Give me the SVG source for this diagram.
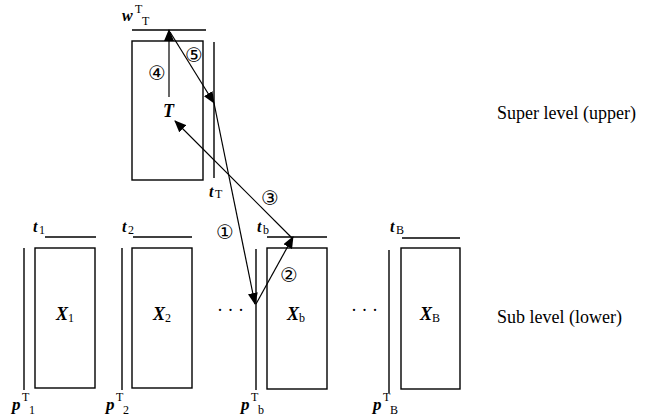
<svg xmlns="http://www.w3.org/2000/svg" width="645" height="416" viewBox="0 0 645 416">
<style>
.box{fill:#fff;stroke:#000;stroke-width:1.4}
.ln{stroke:#000;stroke-width:1.4;fill:none}
.ar{stroke:#000;stroke-width:1.2;fill:none;marker-end:url(#ah)}
.v{font-family:"Liberation Serif",serif;font-weight:bold;font-style:italic;fill:#000}
.s{font-family:"Liberation Serif",serif;font-weight:normal;font-style:normal;fill:#000}
.c{font-family:"DejaVu Sans",sans-serif;font-size:20px;fill:#000;text-anchor:middle}
.lab{font-family:"Liberation Serif",serif;font-size:18px;fill:#000}
</style>
<defs>
<marker id="ah" viewBox="0 0 12 10" refX="11" refY="5" markerWidth="12" markerHeight="10" markerUnits="userSpaceOnUse" orient="auto">
<path d="M0,0 L12,5 L0,10 Z" fill="#000"/>
</marker>
</defs>

<g id="upper">
<rect class="box" x="132" y="41" width="71" height="139"/>
<text class="v" x="163" y="117" font-size="18">T</text>
</g>
<g id="wTT">
<line class="ln" x1="132" y1="30" x2="206" y2="30"/>
<text class="v" x="122" y="21" font-size="16">w</text>
<text class="s" x="135" y="13" font-size="12">T</text>
<text class="s" x="142" y="25" font-size="12">T</text>
</g>
<g id="tT">
<line class="ln" x1="214" y1="42" x2="214" y2="178"/>
<text class="v" x="209" y="197" font-size="16">t</text>
<text class="s" x="215" y="198" font-size="12">T</text>
</g>

<g id="X1">
<line class="ln" x1="45" y1="237" x2="96" y2="237"/>
<text class="v" x="33" y="232" font-size="16">t</text>
<text class="s" x="39" y="234" font-size="12">1</text>
<line class="ln" x1="24" y1="248" x2="24" y2="390"/>
<rect class="box" x="35" y="248" width="60" height="140"/>
<text class="v" x="56" y="320" font-size="18">X</text>
<text class="s" x="68" y="322" font-size="12" font-weight="bold">1</text>
<text class="v" x="12" y="410" font-size="17">p</text>
<text class="s" x="22" y="401" font-size="12">T</text>
<text class="s" x="29" y="414" font-size="12">1</text>
</g>
<g id="X2">
<line class="ln" x1="133" y1="237" x2="192" y2="237"/>
<text class="v" x="122" y="232" font-size="16">t</text>
<text class="s" x="128" y="234" font-size="12">2</text>
<line class="ln" x1="122" y1="248" x2="122" y2="390"/>
<rect class="box" x="132" y="248" width="60" height="140"/>
<text class="v" x="153" y="320" font-size="18">X</text>
<text class="s" x="165" y="322" font-size="12" font-weight="bold">2</text>
<text class="v" x="106" y="410" font-size="17">p</text>
<text class="s" x="116" y="401" font-size="12">T</text>
<text class="s" x="123" y="414" font-size="12">2</text>
</g>
<g id="Xb">
<line class="ln" x1="267" y1="237" x2="327" y2="237"/>
<text class="v" x="257" y="232" font-size="16">t</text>
<text class="s" x="263" y="234" font-size="12">b</text>
<line class="ln" x1="256" y1="249" x2="256" y2="390" stroke-width="2"/>
<rect class="box" x="267" y="248" width="60" height="141"/>
<text class="v" x="287" y="320" font-size="18">X</text>
<text class="s" x="299" y="322" font-size="12" font-weight="bold">b</text>
<text class="v" x="241" y="410" font-size="17">p</text>
<text class="s" x="251" y="401" font-size="12">T</text>
<text class="s" x="258" y="414" font-size="12">b</text>
</g>
<g id="XB">
<line class="ln" x1="402" y1="238" x2="460" y2="238"/>
<text class="v" x="390" y="232" font-size="16">t</text>
<text class="s" x="396" y="234" font-size="12">B</text>
<line class="ln" x1="389" y1="250" x2="389" y2="393"/>
<rect class="box" x="401" y="248" width="59" height="141"/>
<text class="v" x="420" y="320" font-size="18">X</text>
<text class="s" x="432" y="322" font-size="12" font-weight="bold">B</text>
<text class="v" x="373" y="410" font-size="17">p</text>
<text class="s" x="383" y="401" font-size="12">T</text>
<text class="s" x="390" y="414" font-size="12">B</text>
</g>

<g id="dots">
<text class="s" x="217" y="316" font-size="18">· · ·</text>
<text class="s" x="351" y="316" font-size="18">· · ·</text>
</g>

<g id="connectors">
<line class="ar" x1="214" y1="103" x2="255" y2="304"/>
<line class="ar" x1="256" y1="304" x2="293" y2="237"/>
<line class="ar" x1="292" y1="238" x2="175" y2="121"/>
<line class="ar" x1="169" y1="97" x2="169" y2="30"/>
<line class="ar" x1="170" y1="32" x2="214" y2="103"/>
</g>

<g id="labels">
<text class="c" x="225" y="239">①</text>
<text class="c" x="289" y="282">②</text>
<text class="c" x="270" y="205">③</text>
<text class="c" x="157" y="80">④</text>
<text class="c" x="194" y="62">⑤</text>
<text class="lab" x="497" y="119">Super level (upper)</text>
<text class="lab" x="497" y="323">Sub level (lower)</text>
</g>
</svg>
